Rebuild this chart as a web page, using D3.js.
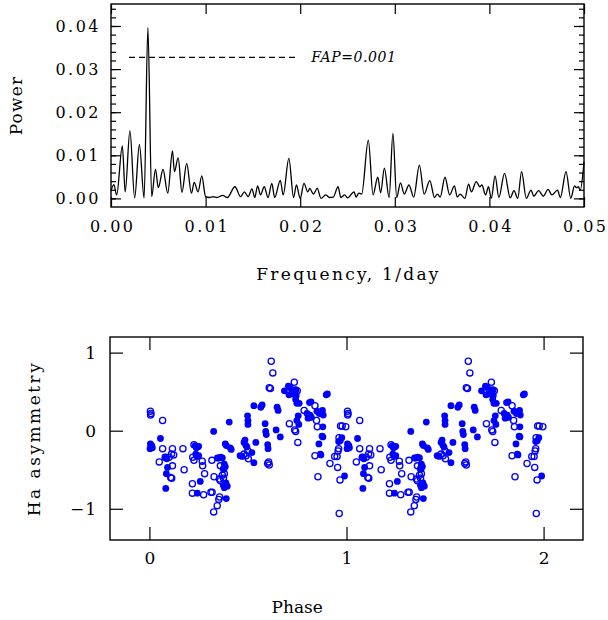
<!DOCTYPE html>
<html lang="en">
<head>
<meta charset="UTF-8" />
<title>Periodogram and Ha asymmetry phase plot</title>
<style>
  body { margin: 0; background: #fff; }
  svg text { font-family: "DejaVu Serif", serif; fill: #000; }
  .frame { fill: none; stroke: #000; stroke-width: 1.4; }
  .axis path { display: none; }
  .axis line { stroke: #000; stroke-width: 1.2; }
</style>
<script src="https://cdn.jsdelivr.net/npm/d3@7"></script>
</head>
<body>
<svg width="608" height="620"></svg>
<script>
// periodogram: local peaks and troughs
const freq = [0.0000, 0.0003, 0.0006, 0.0012, 0.0015, 0.0020, 0.0025, 0.0030, 0.0035, 0.0039,
  0.0043, 0.0047, 0.0050, 0.0055, 0.0060, 0.0065, 0.0067, 0.0071, 0.0075, 0.0080,
  0.0085, 0.0088, 0.0092, 0.0096, 0.0100, 0.0104, 0.0108, 0.0112, 0.0118, 0.0123,
  0.0131, 0.0137, 0.0141, 0.0145, 0.0149, 0.0152, 0.0155, 0.0158, 0.0162, 0.0166,
  0.0170, 0.0173, 0.0179, 0.0182, 0.0188, 0.0193, 0.0196, 0.0200, 0.0204, 0.0208,
  0.0210, 0.0214, 0.0218, 0.0222, 0.0227, 0.0231, 0.0235, 0.0240, 0.0243, 0.0247,
  0.0250, 0.0257, 0.0259, 0.0262, 0.0265, 0.0272, 0.0277, 0.0282, 0.0285, 0.0289,
  0.0294, 0.0298, 0.0302, 0.0306, 0.0310, 0.0315, 0.0320, 0.0326, 0.0331, 0.0337,
  0.0342, 0.0345, 0.0348, 0.0353, 0.0358, 0.0363, 0.0366, 0.0369, 0.0374, 0.0378,
  0.0381, 0.0386, 0.0390, 0.0392, 0.0396, 0.0399, 0.0402, 0.0406, 0.0410, 0.0416,
  0.0422, 0.0426, 0.0430, 0.0434, 0.0439, 0.0444, 0.0447, 0.0452, 0.0457, 0.0462,
  0.0466, 0.0472, 0.0475, 0.0481, 0.0486, 0.0490, 0.0492, 0.0494, 0.0496, 0.0500];
const power = [0.0017, 0.0032, 0.0008, 0.0122, 0.0015, 0.0157, 0.0001, 0.0125, 0.0001, 0.0396,
  0.0004, 0.0068, 0.0025, 0.0067, 0.0012, 0.0110, 0.0062, 0.0094, 0.0014, 0.0081,
  0.0012, 0.0037, 0.0015, 0.0052, 0.0004, 0.0002, 0.0004, 0.0002, 0.0007, 0.0002,
  0.0027, 0.0004, 0.0015, 0.0004, 0.0022, 0.0002, 0.0029, 0.0008, 0.0027, 0.0002,
  0.0035, 0.0002, 0.0042, 0.0008, 0.0093, 0.0002, 0.0031, 0.0000, 0.0035, 0.0015,
  0.0023, 0.0010, 0.0023, 0.0000, 0.0008, 0.0002, 0.0003, 0.0027, 0.0002, 0.0008,
  0.0001, 0.0015, 0.0003, 0.0012, 0.0010, 0.0135, 0.0008, 0.0049, 0.0013, 0.0070,
  0.0002, 0.0151, 0.0002, 0.0036, 0.0010, 0.0031, 0.0003, 0.0077, 0.0010, 0.0041,
  0.0002, 0.0010, 0.0003, 0.0049, 0.0008, 0.0029, 0.0003, 0.0010, 0.0000, 0.0033,
  0.0015, 0.0039, 0.0027, 0.0031, 0.0008, 0.0027, 0.0000, 0.0052, 0.0002, 0.0058,
  0.0001, 0.0018, 0.0000, 0.0062, 0.0000, 0.0019, 0.0005, 0.0018, 0.0005, 0.0021,
  0.0008, 0.0019, 0.0002, 0.0062, 0.0000, 0.0029, 0.0025, 0.0027, 0.0019, 0.0085];
const fapLevel = 0.0327;
const fapRange = [0.0019, 0.0197];
const fapLabel = "FAP=0.001";
const freqTicks = [0, 0.01, 0.02, 0.03, 0.04, 0.05];
const powerTicks = [0, 0.01, 0.02, 0.03, 0.04];

// Ha asymmetry vs phase, one cycle (plotted twice)
const filledPhase = [0.005, 0.008, 0.003, 0.012, 0.015, 0.056, 0.081, 0.088, 0.092, 0.086,
  0.083, 0.232, 0.238, 0.245, 0.250, 0.235, 0.242, 0.250, 0.258, 0.243,
  0.326, 0.345, 0.352, 0.362, 0.370, 0.385, 0.390, 0.410, 0.405, 0.415,
  0.380, 0.385, 0.378, 0.375, 0.380, 0.388, 0.395, 0.390, 0.460, 0.470,
  0.480, 0.485, 0.490, 0.495, 0.500, 0.500, 0.498, 0.530, 0.540, 0.530,
  0.520, 0.565, 0.572, 0.587, 0.590, 0.593, 0.600, 0.602, 0.643, 0.648,
  0.653, 0.664, 0.685, 0.705, 0.715, 0.708, 0.720, 0.740, 0.745, 0.742,
  0.748, 0.760, 0.755, 0.748, 0.758, 0.800, 0.805, 0.812, 0.820, 0.815,
  0.822, 0.850, 0.862, 0.870, 0.878, 0.882, 0.880, 0.876, 0.880, 0.860,
  0.867, 0.870, 0.897, 0.903, 0.960, 0.968, 0.976, 0.990];
const filledAsym = [-0.17, -0.21, -0.23, -0.19, -0.22, -0.10, -0.34, -0.36, -0.47, -0.55,
  -0.74, -0.19, -0.22, -0.21, -0.20, -0.30, -0.33, -0.32, -0.65, -0.80,
  -0.01, -0.35, -0.35, -0.34, -0.35, -0.17, -0.19, -0.22, 0.11, -0.24,
  -0.43, -0.46, -0.49, -0.70, -0.73, -0.67, -0.71, -0.87, -0.32, -0.33,
  -0.15, -0.12, -0.19, -0.21, 0.13, 0.08, 0.19, 0.32, -0.15, -0.41,
  -0.28, 0.30, 0.33, 0.09, -0.01, -0.05, -0.18, -0.23, 0.01, 0.30,
  0.26, -0.08, 0.51, 0.57, 0.55, 0.46, 0.47, 0.52, 0.45, 0.40,
  0.35, 0.35, 0.19, 0.13, 0.08, 0.22, 0.16, 0.36, 0.37, 0.20,
  0.17, 0.25, 0.22, 0.24, 0.26, 0.20, 0.05, -0.07, -0.08, -0.17,
  -0.30, -0.31, 0.46, 0.47, -0.14, -0.13, -0.09, -0.58];
const openPhase = [0.005, 0.008, 0.006, 0.067, 0.067, 0.050, 0.080, 0.100, 0.117, 0.123,
  0.112, 0.117, 0.108, 0.113, 0.170, 0.176, 0.218, 0.218, 0.226, 0.220,
  0.226, 0.268, 0.270, 0.280, 0.275, 0.312, 0.318, 0.317, 0.326, 0.344,
  0.352, 0.356, 0.328, 0.355, 0.360, 0.376, 0.380, 0.370, 0.360, 0.376,
  0.480, 0.500, 0.502, 0.490, 0.600, 0.605, 0.608, 0.618, 0.626, 0.608,
  0.614, 0.710, 0.735, 0.742, 0.750, 0.737, 0.742, 0.753, 0.785, 0.840,
  0.848, 0.852, 0.840, 0.855, 0.916, 0.940, 0.952, 0.955, 0.963, 0.967,
  0.970, 0.978, 0.996, 0.960, 0.962, 0.957];
const openAsym = [0.25, 0.22, 0.20, 0.13, -0.23, -0.40, -0.34, -0.34, -0.23, -0.31,
  -0.30, -0.45, -0.60, -0.61, -0.23, -0.50, -0.68, -0.80, -0.18, -0.34,
  -0.38, -0.39, -0.45, -0.55, -0.82, -0.79, -0.79, -0.38, -1.04, -0.96,
  -0.88, -0.85, -0.59, -0.62, -0.64, -0.49, -0.55, -0.57, -0.45, -0.61,
  -0.30, -0.26, -0.36, -0.32, -0.42, -0.40, -0.44, 0.89, 0.74, 0.55,
  0.54, 0.09, 0.62, 0.52, 0.51, 0.01, -0.01, -0.15, 0.26, 0.32,
  0.13, 0.05, -0.32, -0.59, -0.42, -0.33, -0.33, -0.47, -1.06, -0.63,
  0.06, 0.06, 0.05, -0.23, -0.09, -0.26];
const cycles = [0, 1];
const phaseTicks = [0, 1, 2];
const asymTicks = [-1, 0, 1];

const svg = d3.select("svg");
const blue = "#0000ff";

// ---- top panel: periodogram ----
const box1 = { left: 111, right: 584, top: 4, bottom: 207 };
const x1 = d3.scaleLinear().domain([0, 0.05]).range([box1.left, box1.right]);
const y1 = d3.scaleLinear().domain([-0.002, 0.0451]).range([box1.bottom, box1.top]);

const g1 = svg.append("g");
const minorPower = d3.range(0, 0.0451, 0.002);

g1.append("g").attr("class", "axis").attr("transform", `translate(${box1.left},0)`)
  .call(d3.axisLeft(y1).tickValues(minorPower).tickSize(-5).tickFormat(""));
g1.append("g").attr("class", "axis").attr("transform", `translate(${box1.right},0)`)
  .call(d3.axisRight(y1).tickValues(minorPower).tickSize(-5).tickFormat(""));
g1.append("g").attr("class", "axis").attr("transform", `translate(${box1.left},0)`)
  .call(d3.axisLeft(y1).tickValues(powerTicks).tickSize(-10).tickPadding(10).tickFormat(d3.format(".2f")))
  .selectAll("text").attr("font-size", 16).attr("letter-spacing", 2.5);
g1.append("g").attr("class", "axis").attr("transform", `translate(${box1.right},0)`)
  .call(d3.axisRight(y1).tickValues(powerTicks).tickSize(-10).tickFormat(""));
g1.append("g").attr("class", "axis").attr("transform", `translate(0,${box1.bottom})`)
  .call(d3.axisBottom(x1).tickValues(freqTicks).tickSize(-10).tickPadding(14).tickFormat(d3.format(".2f")))
  .selectAll("text").attr("font-size", 16).attr("letter-spacing", 2.5).attr("dx", 1.2);
g1.append("g").attr("class", "axis").attr("transform", `translate(0,${box1.top})`)
  .call(d3.axisTop(x1).tickValues(freqTicks).tickSize(-10).tickFormat(""));

const line = d3.line()
  .x((d, i) => x1(freq[i]))
  .y(d => y1(d))
  .curve(d3.curveMonotoneX);
g1.append("path")
  .datum(power)
  .attr("d", line)
  .attr("fill", "none")
  .attr("stroke", "#000")
  .attr("stroke-width", 1.3);

g1.append("line")
  .attr("x1", x1(fapRange[0])).attr("x2", x1(fapRange[1]))
  .attr("y1", y1(fapLevel)).attr("y2", y1(fapLevel))
  .attr("stroke", "#000").attr("stroke-width", 1.2)
  .attr("stroke-dasharray", "6,4");
g1.append("text")
  .attr("x", x1(fapRange[1]) + 14).attr("y", y1(fapLevel) + 5)
  .attr("font-size", 14).attr("font-style", "italic").attr("letter-spacing", 0.6)
  .text(fapLabel);

g1.append("rect").attr("class", "frame")
  .attr("x", box1.left).attr("y", box1.top)
  .attr("width", box1.right - box1.left).attr("height", box1.bottom - box1.top);

g1.append("text")
  .attr("x", (box1.left + box1.right) / 2 + 1).attr("y", 280)
  .attr("text-anchor", "middle").attr("font-size", 17).attr("letter-spacing", 2.3)
  .text("Frequency, 1/day");
g1.append("text")
  .attr("transform", `translate(22,${(box1.top + box1.bottom) / 2}) rotate(-90)`)
  .attr("text-anchor", "middle").attr("font-size", 17).attr("letter-spacing", 1.2)
  .text("Power");

// ---- bottom panel: phase plot ----
const box2 = { left: 110, right: 583, top: 337, bottom: 540 };
const x2 = d3.scaleLinear().domain([-0.2, 2.2]).range([box2.left, box2.right]);
const y2 = d3.scaleLinear().domain([-1.4, 1.2]).range([box2.bottom, box2.top]);
const g2 = svg.append("g");

const minusFmt = d => d < 0 ? "\u2212" + Math.abs(d) : String(d);
g2.append("g").attr("class", "axis").attr("transform", `translate(${box2.left},0)`)
  .call(d3.axisLeft(y2).tickValues(asymTicks).tickSize(-13).tickPadding(13).tickFormat(minusFmt))
  .selectAll("text").attr("font-size", 17).attr("letter-spacing", 1);
g2.append("g").attr("class", "axis").attr("transform", `translate(${box2.right},0)`)
  .call(d3.axisRight(y2).tickValues(asymTicks).tickSize(-13).tickFormat(""));
g2.append("g").attr("class", "axis").attr("transform", `translate(0,${box2.bottom})`)
  .call(d3.axisBottom(x2).tickValues(phaseTicks).tickSize(-13).tickPadding(12).tickFormat(d3.format("d")))
  .selectAll("text").attr("font-size", 17);
g2.append("g").attr("class", "axis").attr("transform", `translate(0,${box2.top})`)
  .call(d3.axisTop(x2).tickValues(phaseTicks).tickSize(-13).tickFormat(""));

const openPts = cycles.flatMap(c => openPhase.map((p, i) => [p + c, openAsym[i]]));
const filledPts = cycles.flatMap(c => filledPhase.map((p, i) => [p + c, filledAsym[i]]));

g2.append("g").selectAll("circle")
  .data(openPts)
  .join("circle")
  .attr("cx", d => x2(d[0])).attr("cy", d => y2(d[1]))
  .attr("r", 3.1)
  .attr("fill", "none").attr("stroke", blue).attr("stroke-width", 1.3);
g2.append("g").selectAll("circle")
  .data(filledPts)
  .join("circle")
  .attr("cx", d => x2(d[0])).attr("cy", d => y2(d[1]))
  .attr("r", 3.4)
  .attr("fill", blue);

g2.append("rect").attr("class", "frame")
  .attr("x", box2.left).attr("y", box2.top)
  .attr("width", box2.right - box2.left).attr("height", box2.bottom - box2.top);

g2.append("text")
  .attr("x", x2(0.75)).attr("y", 613)
  .attr("text-anchor", "middle").attr("font-size", 17)
  .text("Phase");
g2.append("text")
  .attr("transform", `translate(40,${(box2.top + box2.bottom) / 2}) rotate(-90)`)
  .attr("text-anchor", "middle").attr("font-size", 17).attr("letter-spacing", 2.5)
  .text("Ha asymmetry");
</script>
</body>
</html>
